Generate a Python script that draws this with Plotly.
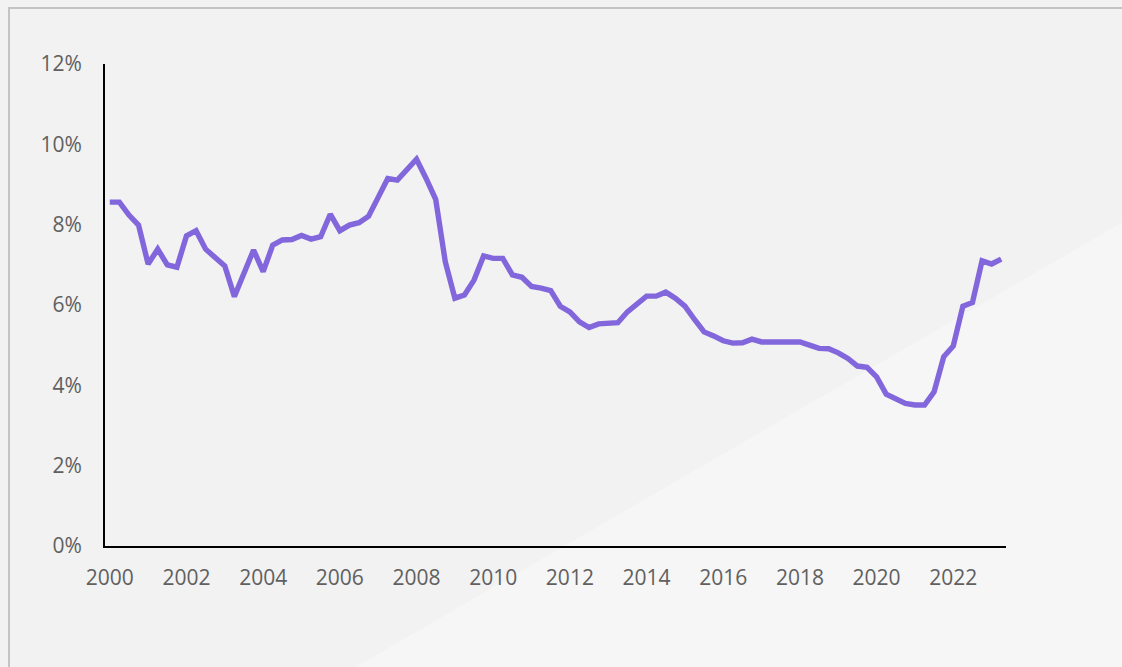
import plotly.graph_objects as go

# Quarterly series, 2000 Q1 .. 2023 Q2 (percent)
start_year = 2000
rate_pct = [
    8.56, 8.56, 8.24, 7.99, 7.02, 7.39, 7.00, 6.94,
    7.72, 7.85, 7.39, 7.20, 6.97, 6.21, 6.79, 7.37,
    6.83, 7.49, 7.62, 7.63, 7.73, 7.64, 7.70, 8.26,
    7.85, 7.99, 8.05, 8.21, 8.68, 9.15, 9.11, 9.38,
    9.63, 9.15, 8.63, 7.08, 6.17, 6.25, 6.62, 7.22,
    7.16, 7.16, 6.75, 6.69, 6.46, 6.42, 6.36, 5.97,
    5.83, 5.58, 5.44, 5.53, 5.53, 5.56, 5.83, 6.04,
    6.22, 6.22, 6.32, 6.17, 5.97, 5.64, 5.33, 5.23,
    5.11, 5.05, 5.06, 5.15, 5.08, 5.08, 5.08, 5.08,
    5.08, 5.00, 4.92, 4.91, 4.81, 4.67, 4.48, 4.45,
    4.21, 3.78, 3.68, 3.55, 3.51, 3.51, 3.84, 4.71,
    4.98, 5.97, 6.06, 7.10, 7.02, 7.14,
]
quarter_x = [start_year + i / 4 for i in range(len(rate_pct))]
x_ticks = list(range(2000, 2023, 2))
y_ticks = [0, 2, 4, 6, 8, 10, 12]

W, H = 1122, 667
L, R, T, B = 105, 1006, 64, 546


def px(xp):
    return (xp - L) / (R - L)


def py(yp):
    return (B - yp) / (B - T)


fig = go.Figure()
fig.add_trace(go.Scatter(
    x=quarter_x, y=rate_pct, mode="lines",
    line=dict(color="#8266DB", width=5.4),
    hoverinfo="x+y", showlegend=False,
))

shapes = [
    # lighter wedge lower right
    dict(type="path", xref="paper", yref="paper", layer="below",
         path=f"M {px(354)} {py(668)} L {px(1123)} {py(222)} L {px(1123)} {py(668)} Z",
         fillcolor="#F6F6F6", line=dict(width=0)),
    # frame border
    dict(type="rect", xref="paper", yref="paper", layer="below",
         x0=px(9), y0=py(8), x1=px(1140), y1=py(690),
         line=dict(color="#C4C4C4", width=2), fillcolor="rgba(0,0,0,0)"),
]

fig.update_layout(
    width=W, height=H,
    margin=dict(l=L, r=W - R, t=T, b=H - B),
    paper_bgcolor="#F2F2F2",
    plot_bgcolor="rgba(0,0,0,0)",
    shapes=shapes,
    font=dict(family="Open Sans, Liberation Sans, sans-serif", size=21, color="#606060"),
    xaxis=dict(
        range=[start_year - 0.125, start_year + (len(rate_pct) - 1) / 4 + 0.125],
        tickmode="array", tickvals=x_ticks, ticktext=[str(v) for v in x_ticks],
        showgrid=False, zeroline=False,
        showline=True, linecolor="#000000", linewidth=2,
        ticks="", ticklabelstandoff=12,
    ),
    yaxis=dict(
        range=[0, 12],
        tickmode="array", tickvals=y_ticks, ticktext=[f"{v}%" for v in y_ticks],
        showgrid=False, zeroline=False,
        showline=True, linecolor="#000000", linewidth=2,
        ticks="", ticklabelstandoff=17,
    ),
)

fig.write_html(
    "out.html",
    config={"displayModeBar": False},
    post_script="document.body.style.margin='0';document.body.style.background='#F2F2F2';document.body.style.overflow='hidden';",
)
